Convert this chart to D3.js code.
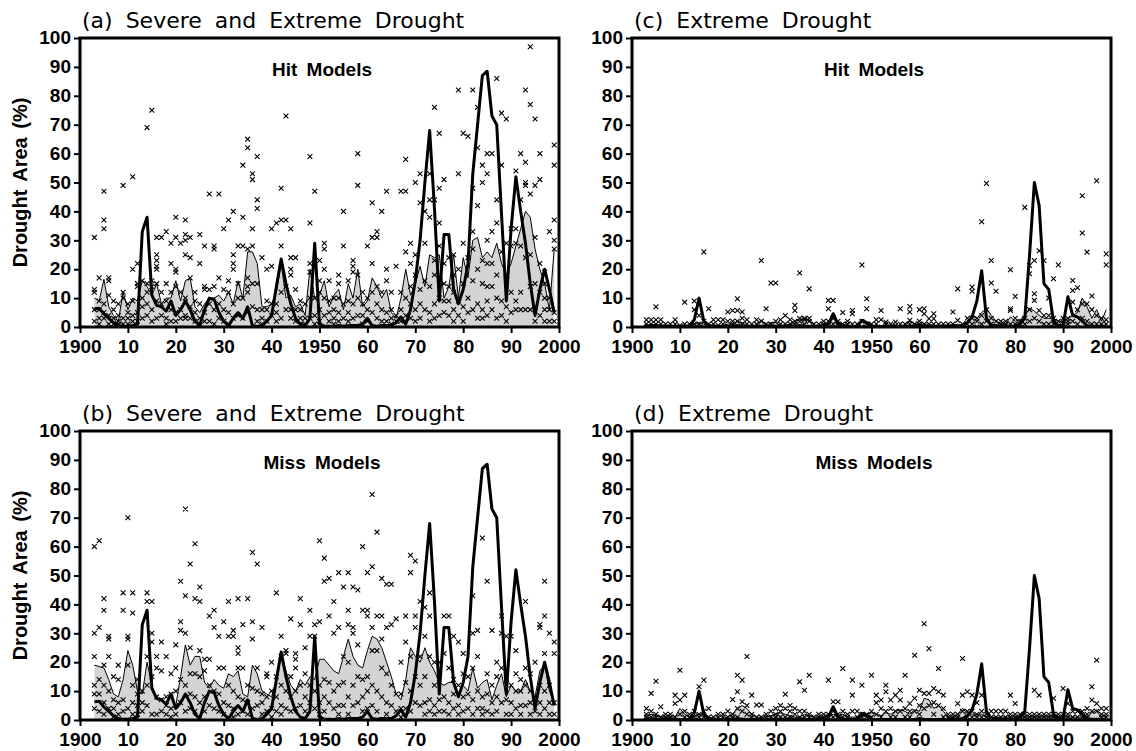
<!DOCTYPE html>
<html>
<head>
<meta charset="utf-8">
<script src="https://cdn.jsdelivr.net/npm/d3@7"></script>
<style>
  body { margin: 0; background: #fff; }
  svg { display: block; }
  .tick text { font-family: "Liberation Sans", Arial, sans-serif; font-weight: bold; font-size: 19px; fill: #000; }
  .tick line { stroke: #000; stroke-width: 2px; }
  .ptitle { font-family: "DejaVu Sans", sans-serif; font-size: 22px; word-spacing: 6px; }
  .plabel { font-family: "Liberation Sans", Arial, sans-serif; font-weight: bold; font-size: 19px; word-spacing: 4px; }
  .ylab { font-family: "Liberation Sans", Arial, sans-serif; font-weight: bold; font-size: 20px; word-spacing: 3px; }
</style>
</head>
<body>
<div id="chart"></div>
<script>
'use strict';

// years of the record
var years = d3.range(1903, 2000);

var xTicks = [1900, 1910, 1920, 1930, 1940, 1950, 1960, 1970, 1980, 1990, 2000];
var yTicks = [0, 10, 20, 30, 40, 50, 60, 70, 80, 90, 100];

// observed drought area (%), thick line
var obsSevere = [
  6.3, 6.5, 4.5, 3, 1.5, 0.5, 0.3,
  0.3, 0.5, 1, 33, 38, 11, 7.5, 7, 5.5, 9,
  4, 6, 9, 6, 2, 0.5, 6, 10, 9.5, 5,
  2, 0.5, 3, 5, 3, 7, 0.5, 0.2, 0.5, 2,
  4, 14, 23.5, 15, 8, 3, 1, 0.5, 3, 29,
  1, 0.3, 0.3, 0.2, 0.5, 0.3, 0.5, 0.5, 0.5, 1,
  3, 0.5, 0.3, 0.5, 0.5, 0.5, 1.5, 3.5, 1, 6,
  16, 30, 50, 68, 41, 9, 32, 32, 13, 8,
  13, 22, 53, 70, 87, 88.5, 73, 70, 39, 9,
  34, 52, 40, 29, 15, 4, 13, 20, 13, 5
];
var obsExtreme = [
  0.3, 0.5, 0.3, 0.2, 0.2, 0.2, 0.2,
  0.2, 0.2, 0.3, 2.5, 10, 2, 0.5, 0.3, 0.3, 0.3,
  0.3, 0.3, 0.5, 0.3, 0.3, 0.2, 0.3, 0.3, 0.3, 0.3,
  0.3, 0.3, 0.3, 0.5, 0.3, 0.5, 0.3, 0.2, 0.2, 0.3,
  0.5, 1, 4.6, 1, 0.3, 0.3, 0.2, 0.3, 2.3, 1.5,
  0.3, 0.2, 0.2, 0.2, 0.2, 0.2, 0.2, 0.2, 0.2, 0.2,
  0.5, 0.2, 0.2, 0.2, 0.2, 0.2, 0.2, 0.5, 0.2, 0.5,
  1.5, 3.5, 9, 19.5, 3, 0.5, 0.5, 0.3, 0.3, 0.3,
  0.3, 1, 3, 25, 50, 42, 15, 13, 2, 0.5,
  0.5, 10.5, 4, 3.5, 2, 0.5, 0.3, 0.3, 0.3, 0.3
];

// model mean drought area (%), grey area
var hitSevMean = [
  10, 9, 16.5, 7, 4, 2, 12,
  6, 10, 9, 16, 14, 11, 15, 8, 10, 10,
  16, 9, 16, 17, 7, 5, 8, 10, 10, 11,
  9, 12, 8, 16, 10, 26, 26, 22, 7, 7,
  8, 12, 22, 10, 11, 7, 8, 4, 20, 10,
  11, 16, 7, 11, 13, 6, 15, 10, 20, 7,
  9, 17, 14, 10, 13, 5, 3, 10, 20, 11,
  15, 21, 14, 25, 24, 25, 10, 14, 25, 10,
  24, 17, 30, 31, 24, 26, 24, 29, 22, 18,
  22, 28, 34, 40, 38, 27, 20, 15, 6, 27
];
var missSevMean = [
  19, 18.5, 18, 14, 9, 8, 14,
  24, 19, 10, 9, 20, 12, 7, 7, 6, 8,
  5, 15, 26, 19, 22, 22, 13, 11, 14, 12,
  11, 16, 15, 17, 9, 8, 19, 16, 10, 9,
  8, 14, 22, 17, 12, 10, 14, 12, 15, 14,
  21, 21, 19, 17, 16, 22, 28, 22, 19, 18,
  24, 29, 28, 25, 20, 15, 9, 7, 14, 25,
  22, 20, 25, 20, 17, 13, 12, 13, 13, 9,
  12, 10, 18, 11, 13, 14, 7, 12, 16, 8,
  12, 10, 10, 14, 10, 8, 17, 19, 10, 6
];
var hitExtMean = [
  0.5, 0.5, 1, 0.5, 0.3, 0.3, 0.5,
  0.5, 0.5, 0.5, 1, 1.5, 1, 0.5, 0.5, 0.5, 0.5,
  1, 1, 2, 1.5, 0.5, 0.3, 0.5, 2.5, 0.5, 1.5,
  1.5, 0.5, 0.5, 1, 2, 2.5, 3, 2.5, 0.5, 0.5,
  0.5, 1.5, 3, 1.5, 1, 0.5, 0.5, 0.5, 2, 1,
  0.5, 0.5, 0.5, 0.3, 0.5, 0.5, 0.5, 0.5, 2, 1,
  1, 1, 1, 0.5, 0.5, 0.3, 0.3, 0.5, 1, 0.5,
  2, 4, 3, 5, 6.5, 4, 2, 1, 1, 3.5,
  2, 2.5, 4, 6.5, 5.5, 4, 3, 3, 3, 2,
  2, 3, 4, 5, 10, 7, 3, 6, 2, 6
];
var missExtMean = [
  1.5, 2, 1.5, 1, 1, 1, 1,
  4, 2, 1, 1.5, 2, 2, 1, 0.5, 0.5, 0.5,
  1, 2, 4, 5, 4, 2, 1, 1, 1, 1.5,
  2, 2.5, 2, 1.5, 1, 1, 2, 1.5, 1, 1,
  1, 1.5, 2, 1.5, 2, 1, 1, 1, 1.5, 2,
  2.5, 2, 1.5, 2.5, 2, 3, 3.5, 3, 2, 3.5,
  3, 7.5, 7, 4, 5, 3, 1, 1, 2, 4,
  2.5, 2, 2, 2, 1, 1, 1, 1, 1, 1,
  1, 1, 1, 1, 1, 1, 1, 1, 1, 1,
  1, 1, 1, 1, 1, 1, 2.5, 3.5, 2, 1
];

// individual model values (%), one list per year, x markers
var hitSevPts = [
  [31,13,12,6,2], [17,9,6,3,1], [47,37,34,8,5,3], [17,16,11,4,1], [9,6,3,1], [8,4,2,1], [49,12,10,3,1],
  [8,5,3,1], [52,20,9,4,2], [22,15,14,5,2], [16,10,7,3], [69,15,12,8,4], [75,16,14,6,2], [31,25,23,21,20,15,9,3], [31,12,8,4], [33,15,9,3,1], [29,22,12,6,2],
  [38,31,20,19,14,5,2], [29,12,6,3], [37,32,30,25,10,4,3], [31,24,17,7,3], [12,9,5,2], [32,22,8,3,1], [28,14,13,5,2], [46,13,8,2], [28,27,14,6,1], [46,17,8,3],
  [34,13,6,2], [37,16,12,5,1], [40,25,22,20,8,3], [28,15,10,4], [56,38,28,10,3], [65,62,27,17,14,12,5], [53,51,34,28,15,7], [59,44,41,15,6,2], [24,6,3,1], [20,9,6,2],
  [34,21,8,4], [36,8,5,2], [48,37,28,12,3], [73,37,14,6], [34,24,20,18,6,3], [24,13,6,2], [9,6,3,1], [8,3,1], [59,36,22,19,10,3], [47,10,4,1],
  [23,16,12,6,2], [29,27,20,10,4], [16,9,5,2], [10,6,3,1], [18,15,10,5,2], [40,28,8,3], [16,9,5,2], [23,21,19,8,3], [60,49,18,10,4], [12,8,4,1],
  [28,10,6,2], [43,31,22,12,5], [33,31,14,8,3], [40,12,6,2], [47,20,16,5,2], [12,6,3,1], [21,4,2], [47,12,6,2], [58,47,26,10,4], [29,22,14,8,3],
  [50,25,18,6,2], [53,43,13,8,3], [40,29,16,6], [53,44,38,14,5,2], [76,44,23,18,8,3], [67,48,36,28,10,4], [51,22,15,9,5], [24,14,9,4], [25,18,12,6,2], [82,53,20,9,4],
  [67,29,15,7,2], [66,24,10,5], [82,48,33,27,16,6], [76,62,42,20,8,3], [56,50,23,15,6,3], [60,53,30,22,14,9,4], [60,33,22,14,6], [86,44,36,18,10,3], [74,56,26,9,4], [72,29,17,7,2],
  [34,28,12,5], [54,34,29,9,6], [60,44,28,12,6], [82,57,50,49,24,6], [97,77,46,25,14,6], [72,49,31,15,7,2], [60,51,22,12,4], [19,15,10,6,2], [33,10,6,2], [63,56,37,30,27,5,2]
];
var missSevPts = [
  [60,30,22,12,9,4], [62,32,14,9,3], [42,38,19,12,6,2], [29,28,22,10,4], [15,7,4,1], [19,14,6,2], [44,38,7,3],
  [70,29,28,19,4], [44,37,12,6,2], [14,9,5,2], [10,6,3], [44,41,22,12,5], [41,30,27,15,2], [22,18,8,2], [27,17,7,3], [22,8,5,2], [16,9,4,1],
  [26,18,10,5,2], [48,34,31,14,6], [73,43,30,12,3], [54,25,16,9,4], [61,42,16,8,3], [46,41,24,15,6], [21,17,8,3], [36,21,12,5], [38,32,10,4], [29,18,9,3],
  [34,18,6,2], [41,29,12,5], [31,29,10,4,1], [42,25,23,18,8,2], [33,18,7,3], [42,12,6,2], [58,34,28,11,4], [54,18,10,5], [32,9,6,2], [16,15,8,3],
  [20,10,4,1], [44,15,8,3], [29,22,12,5,2], [24,23,10,4], [35,15,8,3], [23,21,18,10,4], [42,33,12,5], [25,16,8,3], [38,29,12,6], [33,29,10,4],
  [62,34,12,6,2], [56,48,14,8,3], [49,36,13,6], [41,30,10,4], [51,32,12,5,2], [46,22,13,5], [51,38,33,20,8,2], [46,32,30,12,5], [45,26,15,6], [60,38,14,8,3],
  [51,38,36,15,10,4], [78,53,32,24,12,5], [65,36,24,10,3], [49,36,28,18,8], [47,32,16,6,2], [47,33,12,5], [35,9,3], [20,9,4,1], [36,27,13,4], [57,51,22,10,3],
  [55,36,32,15,6], [41,22,12,5], [39,29,15,6,2], [44,36,22,7,3], [20,12,5,2], [20,7,3], [36,23,8,3], [36,18,6,2], [29,14,9,4], [27,12,5,2],
  [23,16,8,3], [15,9,4], [43,30,18,7,2], [31,22,10,4], [63,8,4,2], [48,16,9,3], [31,12,6,2], [20,15,8,3], [36,30,18,6], [29,14,7,2],
  [29,12,6,2], [24,16,10,4], [14,10,5,2], [41,18,12,5], [16,10,6,2], [20,8,3], [33,32,12,6,2], [48,36,23,10,4], [30,12,6,2], [27,23,6,2]
];
var hitExtPts = [
  [2.5,1,0], [2.5,1,0], [7,2.5,1], [2.5,1,0], [1,0], [1,0], [2.5,1],
  [0.5,0], [8.6,1,0], [1,0], [9,6,1], [4,1,0], [26,2,0], [6.3,1,0], [2.5,1], [2.5,0.5], [2.5,1],
  [5.2,2,0], [5.7,2,1], [9.8,5.7,2,0], [5.2,3,1], [2.5,1], [1,0], [2.5,1], [23,2,0], [6.3,1], [15.2,1,0],
  [15.2,2,0], [2.5,1], [4,1,0], [2.5,1], [7.5,5.7,2,1], [18.7,3,2,0], [2.5,3,1], [13.2,3,2,0], [1,0], [1,0],
  [2,1,0], [9.2,6.3,2,0], [9.2,3,1], [2,1], [5,1,0], [2,1], [5.7,4.6,1], [1,0], [21.5,2,0], [9.8,6.3,1],
  [1,0], [2.5,1], [5.7,2.5,0], [1.7,1], [1,0], [1.7,0.5], [6.3,1], [1,0], [7.1,5.2,2.3,1], [1,0],
  [6,2,1], [6.3,4.6,1], [2.9,1], [4.6,2.9,1], [1,0], [1,0], [1,0], [5.2,1,0], [13.2,2.3,0], [1,0],
  [3,1], [13.8,12.4,3,1], [3,2,0], [36.4,4,1], [49.7,6,2], [23,15.2,3,1], [12.4,2,0], [2,1], [2,1,0], [19.8,6.3,5.7,1],
  [10.6,3,1], [2,1], [41.4,3,1], [21.3,18.4,6,2], [23,11.5,9.2,3], [26.4,5.7,2], [23,4,1], [10,4,1], [16.7,3,1], [21.5,2,0],
  [3,1,0], [3,2,1], [16.1,12.6,8.6,2], [13.6,6,1], [45.4,32.5,8,3], [25.9,8,2], [10.7,6,1], [50.6,4,1], [3,1], [25.3,21.5,2.5,1]
];
var missExtPts = [
  [4,2,1,0], [9.2,3,1], [13.4,2,1], [4.6,1,0], [2,1,0], [2,1], [8.6,5.7,1],
  [17.2,6.9,2], [8.6,3,1], [2,1], [3,1,0], [11.5,2,1], [13.8,3,1], [4,1,0], [1,0], [2,1], [2,1],
  [3,1], [7.1,2,1], [15.5,9.8,4,1], [13.8,6.3,3], [22,5,2], [8.6,2,1], [5.2,1], [5.2,1], [2,1], [3,1],
  [4,2,1], [5,3,1], [8.9,4,1], [5,3,1], [4,2], [13.2,3,1], [10.3,3,1], [15.5,2,1], [1,0], [2,1],
  [2,1], [13.8,2,1], [6.3,3,1], [6.3,2,1], [17.8,3,1], [2,1], [13.8,8.6,3], [3,1], [12,2,1], [2,1],
  [15.5,3,1], [8.6,6,2], [6.9,4,1], [12,9.8,3], [6.9,4,1], [8.6,3,1], [10.3,6.9,3], [15.5,4,1], [5.7,3,1], [22.4,7.5,3],
  [10.3,5,2], [33.3,9.2,4], [24.7,9.2,5], [10.9,6,2], [17.8,9.8,5], [8.6,4,1], [2,1], [2,1], [5.7,2,1], [21.3,8.6,3],
  [9.8,3,1], [8.6,3,1], [6,2,1], [8.6,3,1], [2,1], [3,1], [3,1], [3,1], [3,1], [8.6,2,1],
  [5.7,2,1], [2,1], [2,1], [2,1], [10.3,2,1], [8.6,2,1], [2,1], [2,1], [7.5,2,1], [2,1],
  [10.9,2,1], [5.7,2,1], [3,1], [3,1], [3,1], [4,2,1], [11.5,6.9,3], [20.7,5.7,3], [4,2,1], [4,2,1]
];

var width = 1136, height = 751;
var pw = 479, ph = 289;

var panels = [
  { title: "(a) Severe and Extreme Drought", label: "Hit Models",  obs: obsSevere,  mean: hitSevMean,  pts: hitSevPts,  left: 80,  top: 38,  ylab: true },
  { title: "(b) Severe and Extreme Drought", label: "Miss Models", obs: obsSevere,  mean: missSevMean, pts: missSevPts, left: 80,  top: 431, ylab: true },
  { title: "(c) Extreme Drought",            label: "Hit Models",  obs: obsExtreme, mean: hitExtMean,  pts: hitExtPts,  left: 632, top: 38,  ylab: false },
  { title: "(d) Extreme Drought",            label: "Miss Models", obs: obsExtreme, mean: missExtMean, pts: missExtPts, left: 632, top: 431, ylab: false }
];

var svg = d3.select("#chart").append("svg")
  .attr("width", width)
  .attr("height", height);

svg.append("rect").attr("width", width).attr("height", height).attr("fill", "#fff");

var xScale = d3.scaleLinear().domain([1900, 2000]).range([0, pw]);
var yScale = d3.scaleLinear().domain([0, 100]).range([ph, 0]);

var xAxisGen = d3.axisBottom(xScale)
  .tickValues(xTicks)
  .tickSize(6)
  .tickPadding(7)
  .tickFormat(function(d){ return (d % 50 === 0) ? String(d) : String(d).slice(2); });
var yAxisGen = d3.axisLeft(yScale)
  .tickValues(yTicks)
  .tickSize(6)
  .tickPadding(3);

var area = d3.area()
  .x(function(d){ return xScale(d.year); })
  .y0(yScale(0))
  .y1(function(d){ return yScale(d.value); });
var line = d3.line()
  .x(function(d){ return xScale(d.year); })
  .y(function(d){ return yScale(d.value); });

var cross = "M-2.4,-2.4L2.4,2.4M-2.4,2.4L2.4,-2.4";

panels.forEach(function(p, k){
  var g = svg.append("g")
    .attr("transform", "translate(" + p.left + "," + p.top + ")");

  g.append("clipPath").attr("id", "clip" + k)
    .append("rect").attr("width", pw).attr("height", ph);

  var plot = g.append("g").attr("clip-path", "url(#clip" + k + ")");

  var meanData = years.map(function(y, i){ return { year: y, value: p.mean[i] }; });
  var obsData = years.map(function(y, i){ return { year: y, value: p.obs[i] }; });
  var ptsData = [];
  p.pts.forEach(function(list, i){
    list.forEach(function(v){ ptsData.push({ year: years[i], value: v }); });
  });

  plot.append("path").datum(meanData)
    .attr("d", area)
    .attr("fill", "#d4d4d4");
  plot.append("path").datum(meanData)
    .attr("d", line)
    .attr("fill", "none")
    .attr("stroke", "#000")
    .attr("stroke-width", 1);

  plot.selectAll(".pt")
    .data(ptsData)
    .enter().append("path")
    .attr("class", "pt")
    .attr("d", cross)
    .attr("transform", function(d){ return "translate(" + xScale(d.year) + "," + yScale(d.value) + ")"; })
    .attr("stroke", "#000")
    .attr("stroke-width", 1.1)
    .attr("fill", "none");

  plot.append("path").datum(obsData)
    .attr("d", line)
    .attr("fill", "none")
    .attr("stroke", "#000")
    .attr("stroke-width", 3)
    .attr("stroke-linejoin", "round");

  var xAxis = g.append("g").call(xAxisGen)
    .attr("transform", "translate(0," + ph + ")");
  var yAxis = g.append("g").call(yAxisGen);
  xAxis.select(".domain").remove();
  yAxis.select(".domain").remove();
  xAxis.selectAll("text").attr("dy", "0.7em");
  yAxis.selectAll("text").attr("dy", "0.3em");

  g.append("rect")
    .attr("width", pw).attr("height", ph)
    .attr("fill", "none")
    .attr("stroke", "#000")
    .attr("stroke-width", 3);

  g.append("text")
    .attr("class", "ptitle")
    .attr("x", 2).attr("y", -10)
    .text(p.title);

  g.append("text")
    .attr("class", "plabel")
    .attr("x", 242).attr("y", 38)
    .attr("text-anchor", "middle")
    .text(p.label);

  if (p.ylab) {
    g.append("text")
      .attr("class", "ylab")
      .attr("transform", "translate(" + (-p.left + 27) + "," + (ph / 2) + ") rotate(-90)")
      .attr("text-anchor", "middle")
      .text("Drought Area (%)");
  }
});
</script>
</body>
</html>
